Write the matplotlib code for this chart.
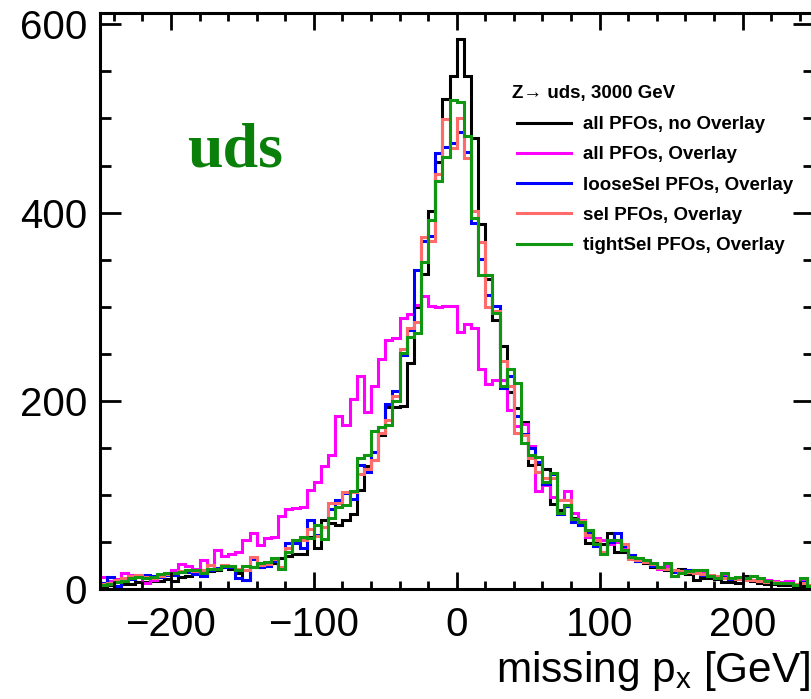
import matplotlib
matplotlib.use("Agg")
import matplotlib.pyplot as plt
from matplotlib.lines import Line2D
import numpy as np

plt.rcParams["font.family"] = ["Liberation Sans", "DejaVu Sans"]
plt.rcParams["mathtext.fontset"] = "custom"
plt.rcParams["mathtext.rm"] = "Liberation Sans"
plt.rcParams["mathtext.it"] = "Liberation Sans:italic"

# histogram binning: 100 bins of 5 GeV
edges = np.arange(-250, 251, 5)

no_overlay = [
    4, 5, 3, 6, 6, 8, 8, 9, 9, 11,
    9, 13, 14, 16, 17, 19, 20, 24, 22, 17,
    10, 24, 24, 26, 28, 33, 35, 37, 38, 56,
    44, 74, 70, 68, 74, 80, 105, 131, 137, 164,
    194, 194, 195, 240, 300, 335, 402, 454, 521, 545,
    584, 545, 479, 388, 330, 286, 258, 210, 193, 178,
    132, 133, 128, 91, 84, 88, 76, 68, 49, 50,
    48, 60, 40, 40, 33, 30, 28, 24, 24, 20,
    20, 22, 16, 10, 12, 12, 11, 8, 8, 7,
    14, 9, 7, 6, 6, 5, 5, 4, 4, 3,
]
all_overlay = [
    13, 9, 11, 17, 15, 13, 7, 10, 13, 17,
    21, 27, 25, 22, 31, 22, 42, 35, 38, 40,
    52, 60, 47, 54, 56, 78, 85, 86, 87, 105,
    114, 131, 143, 184, 174, 202, 226, 188, 216, 245,
    265, 267, 288, 292, 302, 311, 301, 300, 301, 301,
    273, 282, 277, 234, 218, 222, 222, 190, 173, 176,
    152, 104, 111, 98, 95, 104, 81, 74, 56, 54,
    52, 48, 50, 45, 34, 33, 30, 27, 22, 25,
    20, 18, 20, 18, 17, 14, 13, 15, 12, 12,
    10, 10, 11, 10, 9, 8, 9, 6, 9, 5,
]
loose_sel = [
    7, 13, 4, 10, 11, 15, 15, 14, 13, 15,
    15, 18, 18, 16, 14, 21, 23, 24, 24, 12,
    10, 32, 24, 25, 30, 24, 49, 49, 44, 74,
    58, 66, 85, 95, 102, 96, 132, 125, 146, 172,
    197, 211, 249, 275, 339, 370, 375, 463, 470, 474,
    486, 464, 389, 351, 313, 301, 214, 226, 184, 165,
    150, 135, 112, 122, 80, 88, 72, 68, 60, 46,
    40, 50, 60, 46, 36, 30, 31, 25, 24, 22,
    18, 17, 20, 18, 15, 14, 12, 13, 11, 12,
    11, 10, 10, 8, 8, 7, 7, 6, 8, 5,
]
sel = [
    6, 7, 10, 12, 14, 15, 13, 12, 14, 16,
    17, 19, 20, 19, 20, 26, 22, 26, 25, 22,
    20, 34, 26, 27, 32, 24, 44, 52, 52, 64,
    57, 66, 92, 92, 103, 103, 122, 128, 137, 166,
    180, 205, 255, 277, 284, 374, 370, 441, 499, 469,
    500, 458, 402, 369, 300, 296, 242, 216, 166, 164,
    139, 125, 118, 118, 95, 95, 75, 73, 58, 52,
    40, 52, 52, 48, 32, 31, 29, 27, 23, 22,
    21, 19, 18, 17, 16, 15, 14, 12, 12, 11,
    10, 10, 9, 8, 8, 7, 7, 6, 7, 5,
]
tight_sel = [
    5, 6, 8, 9, 12, 13, 12, 13, 16, 17,
    17, 18, 20, 20, 17, 22, 22, 25, 25, 20,
    25, 24, 28, 29, 33, 22, 40, 52, 56, 54,
    68, 53, 76, 87, 89, 104, 139, 143, 168, 172,
    175, 200, 251, 268, 272, 348, 392, 434, 459, 520,
    518, 481, 394, 334, 334, 293, 216, 234, 219, 155,
    143, 141, 114, 124, 81, 89, 75, 72, 63, 48,
    38, 52, 52, 42, 34, 33, 31, 28, 24, 28,
    14, 17, 19, 21, 20, 14, 12, 17, 12, 13,
    12, 14, 12, 9, 7, 7, 7, 5, 12, 3,
]

series = [
    ("all PFOs, no Overlay", no_overlay, "black"),
    ("all PFOs, Overlay", all_overlay, "#ff00ff"),
    ("looseSel PFOs, Overlay", loose_sel, "#0000ff"),
    ("sel PFOs, Overlay", sel, "#ff6b6b"),
    ("tightSel PFOs, Overlay", tight_sel, "#119611"),
]

W, H = 811, 699
fig = plt.figure(figsize=(W / 100, H / 100), dpi=100)
ax = fig.add_axes([99.5 / W, 1 - 589.3 / H, 714.5 / W, (589.3 - 13) / H])

lw = 2.2
handles = []
for label, vals, color in series:
    ax.stairs(vals, edges, color=color, lw=lw, baseline=0)
    handles.append(Line2D([], [], color=color, lw=lw))

ax.set_xlim(-250, 250)
ax.set_ylim(0, 612)

ax.set_xticks(np.arange(-200, 201, 100))
ax.set_xticks(np.arange(-240, 251, 20), minor=True)
ax.set_yticks(np.arange(0, 601, 200))
ax.set_yticks(np.arange(0, 612, 50), minor=True)
ax.tick_params(which="both", direction="in", top=True, right=True, width=2.0, labelsize=29)
ax.tick_params(axis="x", which="major", length=12, pad=12)
ax.tick_params(axis="x", which="minor", length=6)
ax.tick_params(axis="y", which="major", length=15, pad=9)
ax.tick_params(axis="y", which="minor", length=8)
for sp in ax.spines.values():
    sp.set_linewidth(2.2)

xl = ax.set_xlabel(r"missing p$_{\mathrm{x}}$ [GeV]", fontsize=30.5)
xl.set_horizontalalignment("right")
xl.set_verticalalignment("baseline")
ax.xaxis.set_label_coords(0.9955, -0.16)

ax.text(0.1225, 0.7345, "uds", transform=ax.transAxes, fontsize=46,
        family="Liberation Serif", weight="bold", color="#0a800a")

ax.text((512 - 99.5) / 714.5, (589.3 - 98) / 576.3, "Z\u2192 uds, 3000 GeV",
        transform=ax.transAxes, fontsize=13.5, weight="bold")

ax.legend(handles, [s[0] for s in series], loc="upper left",
          bbox_to_anchor=(517 / W, 1 - 116 / H), bbox_transform=fig.transFigure,
          frameon=False, prop={"weight": "bold", "size": 13.5},
          handlelength=2.9, handletextpad=0.63, labelspacing=0.70,
          borderpad=0, borderaxespad=0)

fig.savefig("out.png", dpi=100)
